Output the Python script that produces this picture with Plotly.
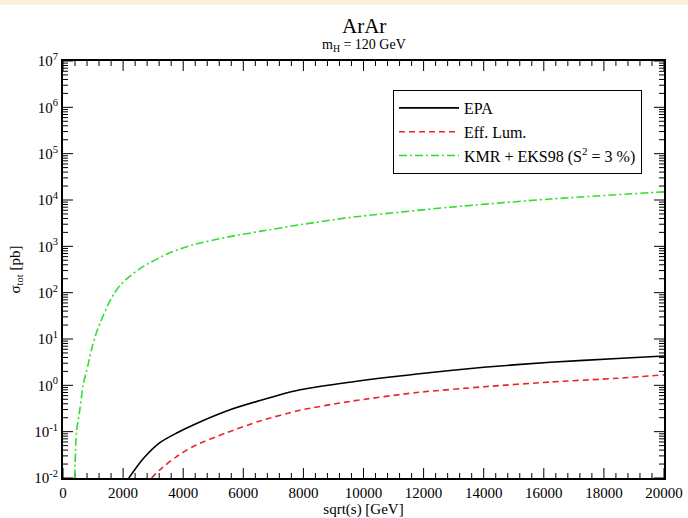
import plotly.graph_objects as go

# EPA (solid black)
epa_x = [2190, 2667, 3223, 3800, 4333, 5447, 6557, 7890, 9557, 11780, 14000, 16220, 18447, 20000]
epa_y = [0.01, 0.026, 0.058, 0.095, 0.14, 0.28, 0.47, 0.80, 1.17, 1.75, 2.45, 3.15, 3.8, 4.3]

# Eff. Lum. (dashed red)
eff_x = [2947, 3223, 3780, 4333, 5447, 6557, 7890, 9557, 11780, 14000, 16220, 18447, 20000]
eff_y = [0.01, 0.015, 0.029, 0.048, 0.095, 0.17, 0.29, 0.45, 0.70, 0.93, 1.18, 1.42, 1.68]

# KMR + EKS98 (dash-dot green)
kmr_x = [390, 450, 560, 670, 830, 950, 1100, 1300, 1500, 1700, 1900, 2200, 2650, 3500,
         4330, 5500, 6550, 8000, 9557, 12890, 16223, 20000]
kmr_y = [0.01, 0.1, 0.3, 1.0, 2.7, 6, 13, 28, 55, 95, 145, 220, 360, 700,
         1080, 1600, 2100, 3000, 4200, 7000, 10500, 15000]

names = ["EPA", "Eff. Lum.", "KMR + EKS98 (S<sup>2</sup> = 3 %)"]

# axis tick definitions
x_major = list(range(0, 20001, 2000))
x_minor = [v for v in range(0, 20001, 400) if v % 2000 != 0]
y_exps = list(range(-2, 8))
y_tickvals = [10.0 ** e for e in y_exps]
y_ticktext = ["10<sup>%d</sup>" % e for e in y_exps]
y_minor = [k * 10.0 ** e for e in range(-2, 7) for k in range(2, 10)]

FONT = "Liberation Serif"
X_RANGE = [0, 20000]
Y_RANGE = [-2, 7]

L, R, T, B = 63, 24, 61, 40
W, H = 688, 518
pw, ph = W - L - R, H - T - B
MAJ, MIN = 10, 5  # tick lengths in px
dec_per_px = (Y_RANGE[1] - Y_RANGE[0]) / ph
x_per_px = (X_RANGE[1] - X_RANGE[0]) / pw

# tick marks (inside, on all four sides) as one segmented line
tx, ty = [], []
for vals, ln in ((x_major, MAJ), (x_minor, MIN)):
    for v in vals:
        tx += [v, v, None, v, v, None]
        ty += [10 ** Y_RANGE[0], 10 ** (Y_RANGE[0] + ln * dec_per_px), None,
               10 ** Y_RANGE[1], 10 ** (Y_RANGE[1] - ln * dec_per_px), None]
for vals, ln in ((y_tickvals, MAJ), (y_minor, MIN)):
    for v in vals:
        tx += [X_RANGE[0], X_RANGE[0] + ln * x_per_px, None,
               X_RANGE[1], X_RANGE[1] - ln * x_per_px, None]
        ty += [v, v, None, v, v, None]

fig = go.Figure()
fig.add_trace(go.Scatter(x=tx, y=ty, mode="lines", showlegend=False, hoverinfo="skip",
                         line=dict(color="black", width=1), connectgaps=False))
fig.add_trace(go.Scatter(x=epa_x, y=epa_y, mode="lines", name=names[0],
                         line=dict(color="black", width=1.6, shape="spline", smoothing=0.7)))
fig.add_trace(go.Scatter(x=eff_x, y=eff_y, mode="lines", name=names[1],
                         line=dict(color="#e8262b", width=1.6, dash="6px,4px", shape="spline",
                                   smoothing=0.7)))
fig.add_trace(go.Scatter(x=kmr_x, y=kmr_y, mode="lines", name=names[2],
                         line=dict(color="#2ee02e", width=1.6, dash="8px,3px,2px,3px",
                                   shape="spline", smoothing=0.7)))

fig.update_layout(
    template="none",
    width=W, height=H,
    margin=dict(l=L, r=R, t=T, b=B, autoexpand=False),
    paper_bgcolor="white", plot_bgcolor="white",
    font=dict(family=FONT, size=15, color="black"),
    showlegend=True,
    legend=dict(x=(393 - L) / pw, y=(H - B - 90) / ph, xanchor="left", yanchor="top",
                bordercolor="black", borderwidth=1, bgcolor="white",
                font=dict(family=FONT, size=16), tracegroupgap=0,
                itemwidth=60),
    xaxis=dict(range=X_RANGE, tickvals=x_major, tickformat="d",
               ticks="", automargin=False, showline=True, linecolor="black",
               linewidth=2, mirror=True, showgrid=False, zeroline=False,
               title=dict(text="sqrt(s) [GeV]", font=dict(family=FONT, size=15), standoff=6),
               tickfont=dict(family=FONT, size=15)),
    yaxis=dict(type="log", range=Y_RANGE, tickvals=y_tickvals, ticktext=y_ticktext,
               ticks="", automargin=False,
               showline=True, linecolor="black", linewidth=2, mirror=True,
               showgrid=False, zeroline=False,
               title=dict(text="σ<sub>tot</sub> [pb]", font=dict(family=FONT, size=15), standoff=10),
               tickfont=dict(family=FONT, size=15)),
    annotations=[
        dict(text="ArAr", xref="paper", yref="paper", x=0.5, y=1 + (T - 26) / ph,
             yanchor="middle", showarrow=False, font=dict(family=FONT, size=21)),
        dict(text="m<sub>H</sub> = 120 GeV", xref="paper", yref="paper", x=0.5,
             y=1 + (T - 45) / ph, yanchor="middle", showarrow=False,
             font=dict(family=FONT, size=14)),
    ],
    shapes=[
        dict(type="rect", xref="paper", yref="paper", x0=-L / pw, x1=1 + R / pw,
             y0=1 + (T - 5) / ph, y1=1 + T / ph, fillcolor="#fcf0dc", line=dict(width=0),
             layer="below"),
    ],
)

fig.write_html("out.html")
